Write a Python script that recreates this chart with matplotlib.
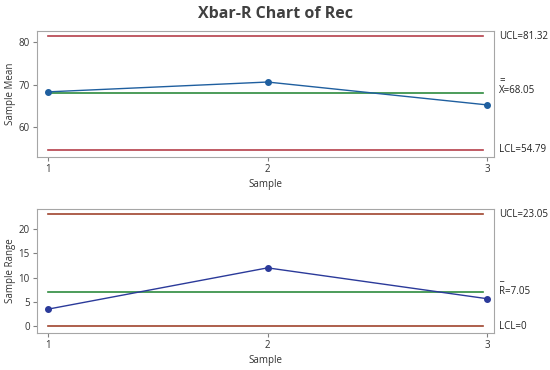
import matplotlib.pyplot as plt

plt.rcParams['font.family'] = ['Open Sans', 'DejaVu Sans']

# 数据
samples = [1, 2, 3]
means = [68.3, 70.6, 65.25]
ranges = [3.5, 12.0, 5.65]
xbar_cl, xbar_ucl, xbar_lcl = 68.05, 81.32, 54.79
r_cl, r_ucl, r_lcl = 7.05, 23.05, 0

fig = plt.figure(figsize=(5.5, 3.7), dpi=100)
fig.suptitle('Xbar-R Chart of Rec', fontsize=11.5, fontweight='bold', color='#404040', y=0.985)

ax1 = fig.add_axes([0.067, 0.576, 0.831, 0.341])
ax2 = fig.add_axes([0.067, 0.1, 0.831, 0.335])

red = '#B5404A'
brown = '#A0442E'
green = '#2E8B3E'


def style(ax):
    for s in ax.spines.values():
        s.set_color('#A6A6A6')
    ax.tick_params(labelsize=7, length=3, pad=2, color='#808080', labelcolor='#333333')
    ax.set_xticks(samples)
    ax.set_xlim(0.95, 3.03)
    ax.set_xlabel('Sample', fontsize=7, color='#333333', labelpad=3)


# 均值图
ax1.axhline(xbar_ucl, xmin=0.024, xmax=0.976, color=red, lw=1.2)
ax1.axhline(xbar_lcl, xmin=0.024, xmax=0.976, color=red, lw=1.2)
ax1.axhline(xbar_cl, xmin=0.024, xmax=0.976, color=green, lw=1.2)
ax1.plot(samples, means, color='#1F5F9F', lw=1, marker='o', ms=4)
ax1.set_ylim(53.1, 82.6)
ax1.set_yticks([60, 70, 80])
ax1.set_ylabel('Sample Mean', fontsize=7, color='#333333', labelpad=2)
style(ax1)
tk = dict(xycoords=('axes fraction', 'data'), fontsize=7, color='#222222', va='center', ha='left')
ax1.annotate('UCL=81.32', (1.012, xbar_ucl), **tk)
ax1.annotate('LCL=54.79', (1.012, xbar_lcl), **tk)
ax1.annotate('X=68.05', (1.012, xbar_cl), xytext=(0, 2), textcoords='offset points', **tk)
ax1.annotate('=', (1.012, xbar_cl), xytext=(0, 9), textcoords='offset points', **tk)

# 极差图
ax2.axhline(r_ucl, xmin=0.024, xmax=0.976, color=brown, lw=1.2)
ax2.axhline(r_lcl, xmin=0.024, xmax=0.976, color=brown, lw=1.2)
ax2.axhline(r_cl, xmin=0.024, xmax=0.976, color=green, lw=1.2)
ax2.plot(samples, ranges, color='#2B3A9A', lw=1, marker='o', ms=4)
ax2.set_ylim(-1.4, 24.1)
ax2.set_yticks([0, 5, 10, 15, 20])
ax2.set_ylabel('Sample Range', fontsize=7, color='#333333', labelpad=2)
style(ax2)
ax2.annotate('UCL=23.05', (1.012, r_ucl), **tk)
ax2.annotate('LCL=0', (1.012, r_lcl), **tk)
ax2.annotate('R=7.05', (1.012, r_cl), xytext=(0, 0), textcoords='offset points', **tk)
ax2.annotate('_', (1.012, r_cl), xytext=(0, 10), textcoords='offset points', **tk)

plt.savefig('out.png', dpi=100)
